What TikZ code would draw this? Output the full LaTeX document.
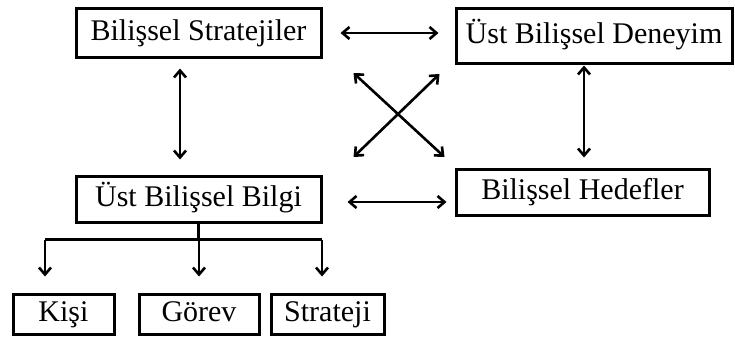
\documentclass[tikz,border=0pt]{standalone}
\usepackage{fontspec}
\setmainfont{Liberation Serif}
\usetikzlibrary{arrows.meta,calc,positioning}

\tikzset{
	kutu/.style={draw, rectangle, line width=3pt, inner sep=0pt, text height=21pt, text depth=6pt, font=\fontsize{30}{34}\selectfont},
	ciftok/.style={line width=2.6pt, {Straight Barb[length=7pt,width=12pt]}-{Straight Barb[length=7pt,width=12pt]}},
	tekok/.style={line width=2.6pt, -{Straight Barb[length=7pt,width=12pt]}},
}

\begin{document}
\begin{tikzpicture}[x=1pt, y=-1pt]
	\useasboundingbox (0,0) rectangle (735,337);
	% ana kutular
	\node[kutu, minimum width=245pt, minimum height=48pt] (strat) at (198.5,33) {Bilişsel Stratejiler};
	\node[kutu, minimum width=276pt, minimum height=54pt] (deney) at (594,36) {Üst Bilişsel Deneyim};
	\node[kutu, minimum width=245pt, minimum height=46pt] (bilgi) at (198.5,199) {Üst Bilişsel Bilgi};
	\node[kutu, minimum width=253pt, minimum height=46pt] (hedef) at (582.5,192) {Bilişsel Hedefler};
	% alt kutular
	\node[kutu, minimum width=101pt, minimum height=40pt] (kisi) at (63.5,314) {Kişi};
	\node[kutu, minimum width=120pt, minimum height=40pt] (gorev) at (199,314) {Görev};
	\node[kutu, minimum width=113pt, minimum height=40pt] (strj) at (327.5,314) {Strateji};

	% yatay oklar
	\draw[ciftok] ($(strat.east)+(18,0)$) -- ($(deney.west)+(-16,-3)$);
	\draw[ciftok] ($(bilgi.east)+(25,3)$) -- ($(hedef.west)+(-8,10)$);
	% dikey oklar
	\draw[ciftok] ($(strat.south)+(-18.5,10)$) -- ($(bilgi.north)+(-18.5,-15)$);
	\draw[ciftok] ($(deney.south)+(-10,1)$) -- ($(hedef.north)+(1.5,-10)$);
	% capraz oklar
	\draw[ciftok] ($(strat.east)+(31,40)$) -- ($(hedef.west)+(-10,-35)$);
	\draw[ciftok] ($(bilgi.east)+(31,-42)$) -- ($(deney.west)+(-15,38)$);

	% agac
	\coordinate (kL) at ($(kisi.north)+(-18.5,-16)$);
	\coordinate (gM) at ($(gorev.north)+(0,-16)$);
	\coordinate (sR) at ($(strj.north)+(-5.5,-16)$);
	\draw[line width=2.6pt] (bilgi.south) -- ++(0,16) coordinate (fork);
	\draw[line width=2.6pt] (fork -| kL) -- (fork -| sR);
	\draw[tekok] (fork -| kL) -- (kL);
	\draw[tekok] (fork -| gM) -- (gM);
	\draw[tekok] (fork -| sR) -- (sR);
\end{tikzpicture}
\end{document}
